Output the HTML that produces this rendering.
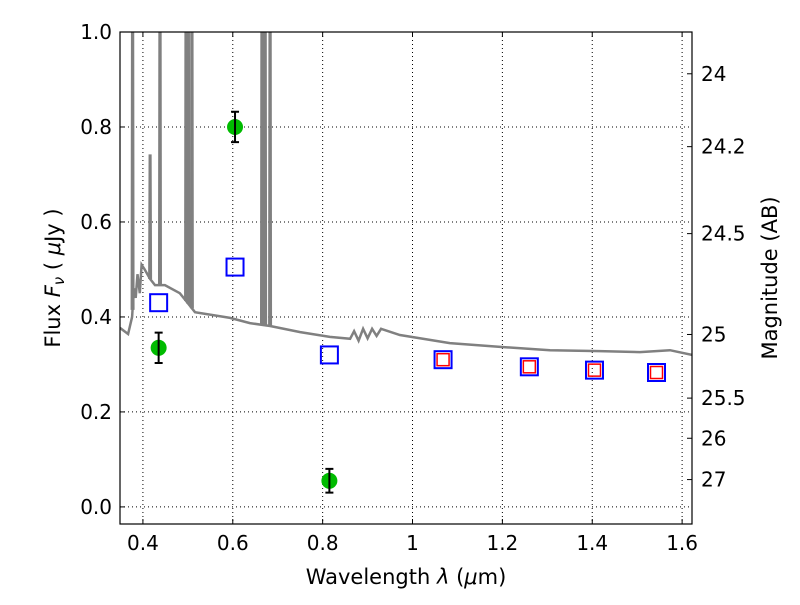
<!DOCTYPE html>
<html><head><meta charset="utf-8"><style>
body{margin:0;background:#fff}
svg text{font-family:"DejaVu Sans","Liberation Sans",sans-serif;font-size:20px;fill:#000}
</style></head><body>
<svg id="c" width="800" height="600"></svg>
<script>
const xTicks=[0.4,0.6,0.8,1.0,1.2,1.4,1.6];
const xTickLabels=["0.4","0.6","0.8","1","1.2","1.4","1.6"];
const yTicks=[0,0.2,0.4,0.6,0.8,1.0];
const yTickLabels=["0.0","0.2","0.4","0.6","0.8","1.0"];
const magTicks=[24,24.2,24.5,25,25.5,26,27];
const magLabels=["24","24.2","24.5","25","25.5","26","27"];
const specWave=[0.349,0.367,0.376,0.38,0.384,0.388,0.393,0.397,0.404,0.41,0.416,0.427,0.449,0.482,0.494,0.516,0.594,0.638,0.683,0.75,0.816,0.861,0.87,0.88,0.89,0.9,0.91,0.92,0.93,0.972,1.083,1.195,1.306,1.417,1.506,1.573,1.622];
const specFlux=[0.377,0.364,0.40,0.46,0.44,0.49,0.45,0.51,0.50,0.49,0.48,0.467,0.467,0.45,0.436,0.41,0.398,0.387,0.381,0.368,0.358,0.354,0.37,0.35,0.375,0.355,0.375,0.36,0.375,0.362,0.345,0.337,0.33,0.328,0.326,0.33,0.32];
const lineWave=[0.377,0.416,0.438,0.496,0.501,0.509,0.665,0.672,0.683];
const lineFlux=[1.2,0.74,1.2,1.2,1.2,1.2,1.2,1.2,1.2];
const obsWave=[0.435,0.605,0.815];
const obsFlux=[0.335,0.80,0.055];
const obsErr=[0.032,0.032,0.025];
const modelWave=[0.435,0.605,0.815,1.068,1.26,1.405,1.543];
const modelFlux=[0.43,0.505,0.32,0.31,0.295,0.288,0.283];
const irWave=[1.068,1.26,1.405,1.543];
const irFlux=[0.31,0.295,0.288,0.283];

const L=120,R=692,T=32,B=524,x0=0.349,x1=1.622,y0=-0.036,y1=1.0;
const X=v=>L+(v-x0)/(x1-x0)*(R-L);
const Y=v=>B-(v-y0)/(y1-y0)*(B-T);
const NS="http://www.w3.org/2000/svg";
const svg=document.getElementById('c');
function mk(t,a,p){const e=document.createElementNS(NS,t);for(const k in a)e.setAttribute(k,a[k]);(p||svg).appendChild(e);return e;}
const defs=mk('defs',{});const cp=mk('clipPath',{id:'cp'},defs);mk('rect',{x:L,y:T,width:R-L,height:B-T},cp);
const grid=mk('g',{});


xTicks.forEach((v,i)=>{
 mk('line',{x1:X(v),x2:X(v),y1:T,y2:B,stroke:'#000','stroke-dasharray':'1,3','stroke-width':1},grid);
 mk('line',{x1:X(v),x2:X(v),y1:B,y2:B-5,stroke:'#000'});mk('line',{x1:X(v),x2:X(v),y1:T,y2:T+5,stroke:'#000'});
 const t=mk('text',{x:X(v),y:B+26,'text-anchor':'middle'});t.textContent=xTickLabels[i];
 
 
});
yTicks.forEach((v,i)=>{
 mk('line',{x1:L,x2:R,y1:Y(v),y2:Y(v),stroke:'#000','stroke-dasharray':'1,3','stroke-width':1},grid);
 mk('line',{x1:L,x2:L+5,y1:Y(v),y2:Y(v),stroke:'#000'});
 const t=mk('text',{x:L-8,y:Y(v)+7,'text-anchor':'end'});t.textContent=yTickLabels[i];
 
 
});
magTicks.forEach((m,i)=>{
 const f=Math.pow(10,-(m-23.9)/2.5);
 mk('line',{x1:R,x2:R-5,y1:Y(f),y2:Y(f),stroke:'#000'});
 const t=mk('text',{x:R+9,y:Y(f)+7});t.textContent=magLabels[i];
 
 
});
const g=mk('g',{'clip-path':'url(#cp)'});
let d=specWave.map((w,i)=>(i?'L':'M')+X(w).toFixed(1)+','+Y(specFlux[i]).toFixed(1)).join('');
const sp=mk('path',{d,fill:'none',stroke:'#808080','stroke-width':2.5},g);


function contAt(w){for(let i=1;i<specWave.length;i++)if(w<=specWave[i]){const t=(w-specWave[i-1])/(specWave[i]-specWave[i-1]);return specFlux[i-1]+t*(specFlux[i]-specFlux[i-1]);}return specFlux[specFlux.length-1];}
lineWave.forEach((w,i)=>{
 const ln=mk('path',{d:`M${X(w-0.002)},${Y(contAt(w))}L${X(w-0.001)},${Y(lineFlux[i])}L${X(w+0.001)},${Y(lineFlux[i])}L${X(w+0.002)},${Y(contAt(w))}`,fill:'none',stroke:'#808080','stroke-width':2.2},g);
 
 
});
modelWave.forEach((w,i)=>{
 const r=mk('rect',{x:X(w)-8.5,y:Y(modelFlux[i])-8.5,width:17,height:17,fill:'none',stroke:'#0000ff','stroke-width':2},g);
 
 
});
irWave.forEach((w,i)=>{
 const r=mk('rect',{x:X(w)-6,y:Y(irFlux[i])-6,width:12,height:12,fill:'none',stroke:'#ff0000','stroke-width':1.5},g);
 
 
});
obsWave.forEach((w,i)=>{
 const c=mk('circle',{cx:X(w),cy:Y(obsFlux[i]),r:8,fill:'#00bb00'},g);
 
 
 const a=Y(obsFlux[i]+obsErr[i]),b=Y(obsFlux[i]-obsErr[i]),x=X(w);
 const e=mk('path',{d:`M${x},${a}V${b}M${x-4},${a}H${x+4}M${x-4},${b}H${x+4}`,stroke:'#000','stroke-width':2,fill:'none'},g);
 
 
});
mk('rect',{x:L,y:T,width:R-L,height:B-T,fill:'none',stroke:'#000','stroke-width':1.2});
let t=mk('text',{x:406,y:584,'text-anchor':'middle',style:'font-size:21px'});t.innerHTML='Wavelength  <tspan font-style="italic">λ</tspan> (<tspan font-style="italic">μ</tspan>m)';

t=mk('text',{x:60,y:278,'text-anchor':'middle',transform:'rotate(-90 60 278)',style:'font-size:21px'});t.innerHTML='Flux  <tspan font-style="italic">F<tspan font-size="15" dy="4">ν</tspan></tspan><tspan dy="-4">  ( </tspan><tspan font-style="italic">μ</tspan>Jy )';

t=mk('text',{x:777,y:278,'text-anchor':'middle',transform:'rotate(-90 777 278)',style:'font-size:21px'});t.textContent='Magnitude (AB)';

</script>
</body></html>
